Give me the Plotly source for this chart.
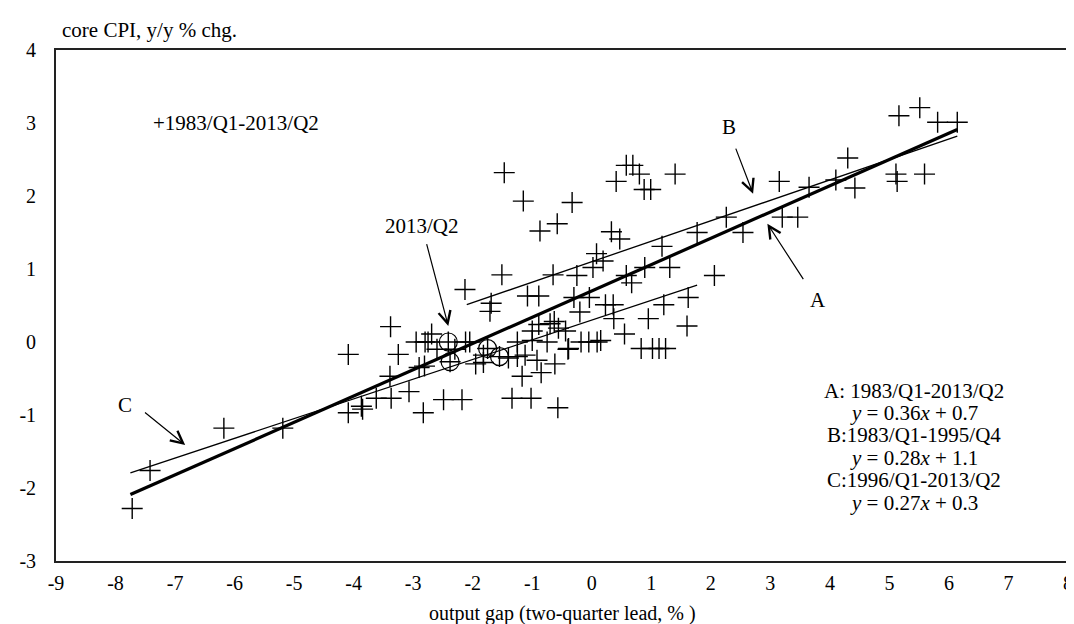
import plotly.graph_objects as go

# ---- data ----
gap_x = [6.14, 5.81, 5.51, 5.16, 5.59, 5.11, 5.13, 4.42, 4.30, 4.10,
         3.65, 3.46, 3.20, 3.15, 2.54, 2.26, 2.06, 1.77, 1.62, 1.60,
         1.40, 1.31, 1.18, 1.21, 0.95, 0.99, 0.88, 0.89, 0.80, 0.69,
         0.58, 0.41, 0.67, 0.58, 0.55, 0.47, 0.33, 0.37, 0.36, 0.23,
         0.19, 0.08, 0.02, -0.04, -0.20, -0.30, -0.25, -0.33, -0.65, -0.58,
         -0.87, -1.15, -1.47, -1.51, -2.13, -1.69, -1.71, -1.08, -0.89, -0.89,
         -0.63, -0.56, -0.44, -3.38, -2.69, 0.83, 1.02, 1.13, 1.24, -0.39,
         0.09, -0.18, -7.72, -7.42, -6.18, -5.19, -4.09, -3.87, -3.85, -3.62,
         -3.37, -3.07, -2.83, -2.49, -2.18, -3.39, -2.81, -4.09, -3.25, -2.60,
         -2.80, -2.05, -2.12, -1.82, -2.41, -2.38, -1.75, -1.55, -1.40, -1.25,
         -1.12, -0.92, -0.85, -1.17, -1.34, -1.02, -0.57, -0.62, -0.40, -1.25,
         -1.00, -0.75, -1.95, -1.82, -2.95, -2.75, -0.05, 0.15, -2.30, -1.00,
         -0.70, -2.90]
cpi_y = [3.01, 3.01, 3.21, 3.10, 2.30, 2.30, 2.20, 2.11, 2.52, 2.22,
         2.12, 1.71, 1.71, 2.20, 1.50, 1.71, 0.91, 1.50, 0.61, 0.22,
         2.30, 1.02, 1.31, 0.51, 0.32, 2.09, 2.09, 1.02, 2.30, 2.42,
         2.42, 2.20, 0.81, 0.91, 0.11, 1.41, 1.51, 0.32, 0.51, 0.51,
         1.11, 1.21, 1.02, 0.61, 0.41, 0.61, 0.91, 1.91, 0.92, 1.62,
         1.52, 1.93, 2.32, 0.92, 0.72, 0.53, 0.42, 0.63, 0.63, 0.24,
         0.28, 0.19, 0.15, 0.21, 0.11, -0.09, -0.09, -0.09, -0.09, -0.09,
         0.00, 0.00, -2.28, -1.76, -1.18, -1.18, -0.97, -0.88, -0.92, -0.77,
         -0.77, -0.68, -0.97, -0.79, -0.79, -0.47, -0.33, -0.17, -0.17, -0.10,
         0.00, 0.00, 0.00, -0.28, 0.00, -0.27, -0.09, -0.20, -0.22, -0.20,
         -0.18, -0.25, -0.42, -0.47, -0.77, -0.77, -0.90, -0.30, -0.10, 0.00,
         0.02, 0.00, -0.30, -0.18, 0.00, 0.00, 0.00, 0.02, -0.10, 0.15,
         0.25, -0.35]

recent_x = [-2.41, -2.38, -1.75, -1.55]
recent_y = [0.00, -0.27, -0.09, -0.20]

line_names = ["A", "B", "C"]
line_slopes = [0.36, 0.28, 0.27]
line_intercepts = [0.7, 1.1, 0.3]
line_x_start = [-7.75, -2.10, -7.75]
line_x_end = [6.14, 6.14, 1.77]
line_widths = [3.2, 1.3, 1.3]

x_ticks = list(range(-9, 9))
x_tick_text = [str(v) for v in x_ticks]          # plain hyphen minus
y_ticks = list(range(-3, 5))
y_tick_text = [str(v) for v in y_ticks]

eq_lines = ["A: 1983/Q1-2013/Q2",
            "<i>y</i> = 0.36<i>x</i> + 0.7",
            "B:1983/Q1-1995/Q4",
            "<i>y</i> = 0.28<i>x</i> + 1.1",
            "C:1996/Q1-2013/Q2",
            "<i>y</i> = 0.27<i>x</i> + 0.3"]
eq_y = [-0.67, -0.97, -1.28, -1.59, -1.89, -2.20]

FONT = "Liberation Serif"

fig = go.Figure()

fig.add_trace(go.Scatter(
    x=gap_x, y=cpi_y, mode="markers", name="1983/Q1-2013/Q2",
    marker=dict(symbol="cross-thin", size=15, color="black",
                line=dict(width=1.4, color="black")),
    cliponaxis=False))

fig.add_trace(go.Scatter(
    x=recent_x, y=recent_y, mode="markers", name="recent",
    marker=dict(symbol="circle-open", size=18, color="black",
                line=dict(width=1.2, color="black"))))

for n, s, b, x0, x1, w in zip(line_names, line_slopes, line_intercepts,
                              line_x_start, line_x_end, line_widths):
    xs = [x0, x1]
    fig.add_trace(go.Scatter(x=xs, y=[s * v + b for v in xs], mode="lines",
                             name=n, line=dict(color="black", width=w)))

axis_common = dict(showgrid=False, zeroline=False)

fig.update_layout(
    width=1074, height=624,
    margin=dict(l=48, r=9, t=42, b=71),
    plot_bgcolor="white", paper_bgcolor="white",
    showlegend=False,
    font=dict(family=FONT, size=20, color="black"),
    xaxis=dict(range=[-9, 8], tickvals=x_ticks, ticktext=x_tick_text,
               ticks="", showline=True, linecolor="#222", linewidth=1.8,
               mirror=True, ticklabelstandoff=3, tickfont=dict(size=20),
               **axis_common),
    yaxis=dict(range=[-3, 4], tickvals=y_ticks, ticktext=y_tick_text,
               ticks="", showline=True, linecolor="#222", linewidth=1.8,
               mirror=True, ticklabelstandoff=14, tickfont=dict(size=20),
               **axis_common),
    xaxis2=dict(overlaying="x", anchor="free", position=3 / 7, range=[-9, 8],
                tickvals=x_ticks, ticks="outside", ticklen=7, tickwidth=1.3,
                tickcolor="black", showticklabels=False, showline=True,
                linecolor="black", linewidth=1.3, **axis_common),
    xaxis3=dict(overlaying="x", anchor="free", position=3 / 7, range=[-9, 8],
                tickvals=x_ticks, ticks="inside", ticklen=7, tickwidth=1.3,
                tickcolor="black", showticklabels=False, showline=False,
                **axis_common),
    yaxis2=dict(overlaying="y", anchor="free", position=9 / 17, range=[-3, 4],
                tickvals=y_ticks, ticks="outside", ticklen=7, tickwidth=1.3,
                tickcolor="black", showticklabels=False, showline=True,
                linecolor="black", linewidth=1.3, **axis_common),
    yaxis3=dict(overlaying="y", anchor="free", position=9 / 17, range=[-3, 4],
                tickvals=y_ticks, ticks="inside", ticklen=7, tickwidth=1.3,
                tickcolor="black", showticklabels=False, showline=False,
                **axis_common),
)

ann = []
# axis titles
ann.append(dict(text="core CPI, y/y % chg.", xref="paper", yref="paper",
                x=0.004, y=1 + 20 / 511, xanchor="left", yanchor="middle",
                showarrow=False, font=dict(size=21)))
ann.append(dict(text="output gap (two-quarter lead, % )", xref="paper",
                yref="paper", x=0.5, y=-52 / 511, xanchor="center",
                yanchor="middle", showarrow=False, font=dict(size=20)))
# legend-like label
ann.append(dict(text="+1983/Q1-2013/Q2", x=-7.40, y=3.0, xanchor="left",
                yanchor="middle", showarrow=False, font=dict(size=21)))
# equations
for t, yy in zip(eq_lines, eq_y):
    ann.append(dict(text=t, x=5.41, y=yy, xanchor="center", yanchor="middle",
                    showarrow=False, font=dict(size=21)))
# letter labels
for t, xx, yy in [("A", 3.8, 0.58), ("B", 2.3, 2.95), ("C", -7.84, -0.86),
                  ("2013/Q2", -2.86, 1.59)]:
    ann.append(dict(text=t, x=xx, y=yy, xanchor="center", yanchor="middle",
                    showarrow=False, font=dict(size=21)))
# arrows (head x,y ; tail ax,ay)
for hx, hy, tx, ty in [(2.95, 1.62, 3.57, 0.84),
                       (2.71, 2.03, 2.41, 2.67),
                       (-6.83, -1.41, -7.53, -0.95),
                       (-2.41, 0.22, -2.78, 1.36)]:
    ann.append(dict(text="", x=hx, y=hy, ax=tx, ay=ty, xref="x", yref="y",
                    axref="x", ayref="y", showarrow=True, arrowhead=5,
                    arrowsize=2.0, arrowwidth=1.2, arrowcolor="black",
                    standoff=0, startstandoff=0))
fig.update_layout(annotations=ann)

fig.write_html("out.html")
